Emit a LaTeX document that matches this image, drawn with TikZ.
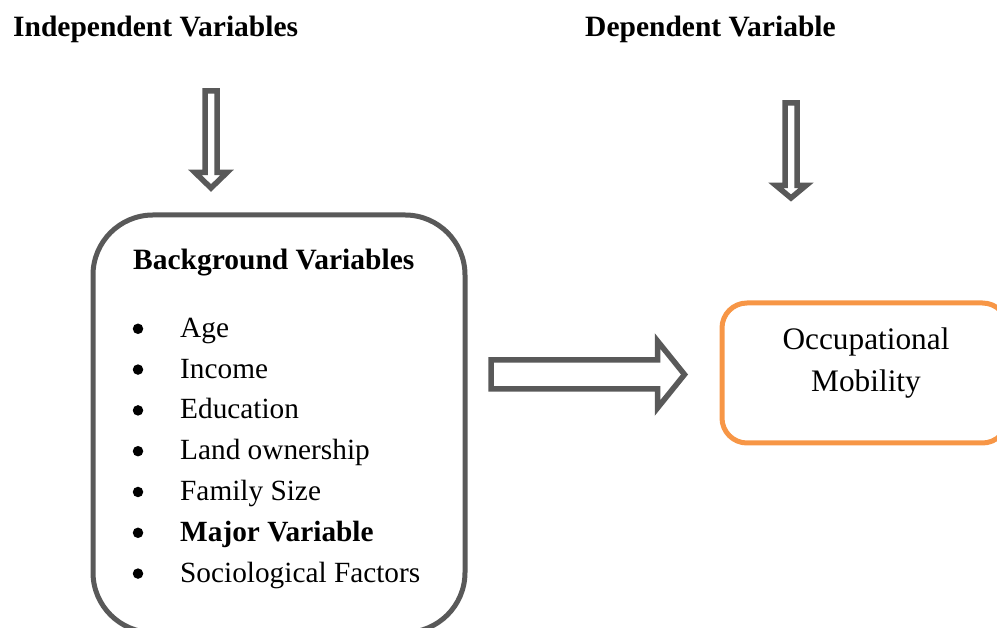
\documentclass[tikz,border=0pt]{standalone}
\usepackage{fontspec}
\setmainfont{Liberation Serif}
\definecolor{boxgray}{HTML}{595959}
\definecolor{boxorange}{HTML}{F79646}
\begin{document}
\begin{tikzpicture}[x=1pt,y=1pt,
  hdr/.style={anchor=base west, inner sep=0pt, font=\fontsize{29.5}{35}\selectfont\bfseries},
  item/.style={anchor=base west, inner sep=0pt, font=\fontsize{29.3}{35}\selectfont},
  bul/.style={circle, fill=black, inner sep=0pt, minimum size=10.5pt},
  blockarrow/.style={draw=boxgray, line width=5.5pt, fill=white, line join=miter},
  graybox/.style={draw=boxgray, line width=5pt, rounded corners=60pt, anchor=north west, inner sep=0pt},
  orangebox/.style={draw=boxorange, line width=5pt, rounded corners=25pt, anchor=north west, inner sep=0pt},
]
\useasboundingbox (0,0) rectangle (997,628);
\clip (0,0) rectangle (997,628);
% headers
\node[hdr] (indep) at (13,591) {Independent Variables};
\node[hdr] (dep) at (585,591) {Dependent Variable};
% boxes
\node[graybox, minimum width=372pt, minimum height=417.5pt] (bg) at (90.5,415.5) {};
\node[orangebox, minimum width=285.5pt, minimum height=140pt] (occ) at (719.5,327.5) {};
% box texts
\node[hdr] (bgtitle) at (133,358) {Background Variables};
\foreach \y/\t/\n in {290.7/Age/a, 249.9/Income/b, 209.1/Education/c, 168.3/Land ownership/d, 127.5/Family Size/e, 45.9/Sociological Factors/g}{
  \node[bul] (bul\n) at (138,\y+8.5) {};
  \node[item] (it\n) at (180,\y) {\t};
}
\node[bul] (bulf) at (138,86.7+8.5) {};
\node[item, font=\fontsize{29.3}{35}\selectfont\bfseries] (itf) at (180,86.7) {Major Variable};
\node[align=center, inner sep=0pt, anchor=base, font=\fontsize{31.3}{42}\selectfont] (occtext) at (866,236) {Occupational\\Mobility};
% block arrows
\draw[blockarrow] (205,537) -- (217,537) -- (217,455.5) -- (227,455.5) -- (211,440) -- (195,455.5) -- (205,455.5) -- cycle;
\draw[blockarrow] (785,525) -- (797,525) -- (797,442.5) -- (806,442.5) -- (791,430) -- (776,442.5) -- (785,442.5) -- cycle;
\draw[blockarrow] (491,268) -- (657.5,268) -- (657.5,287) -- (684.5,253.5) -- (657.5,220) -- (657.5,239) -- (491,239) -- cycle;
\end{tikzpicture}
\end{document}
